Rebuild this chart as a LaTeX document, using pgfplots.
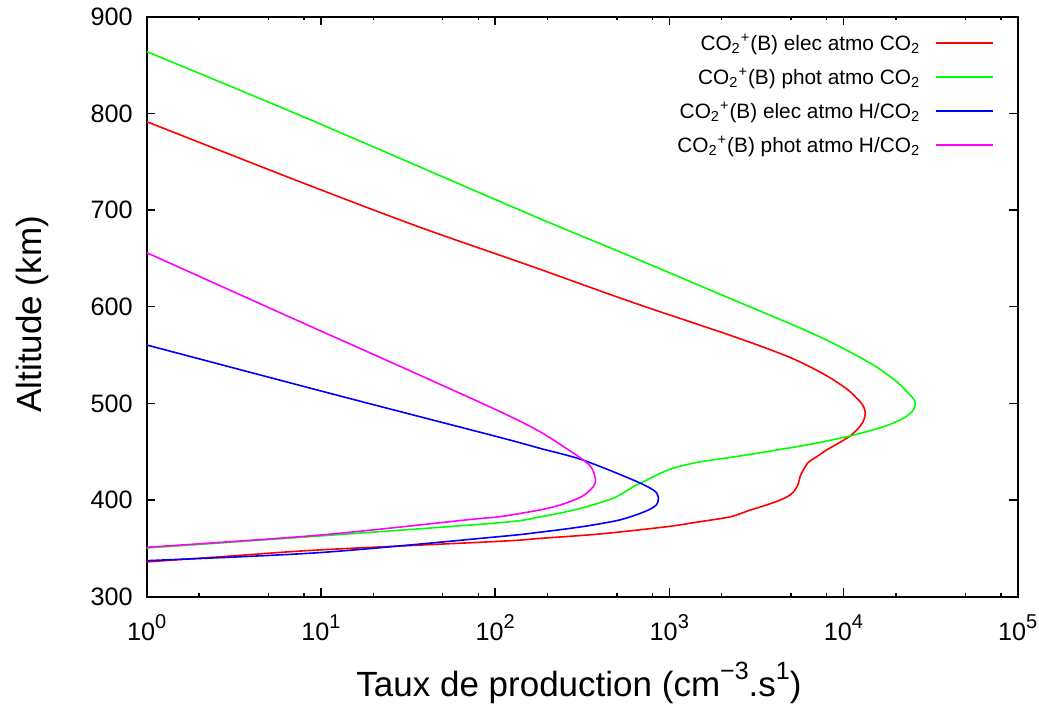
\documentclass[border=0pt]{standalone}
\usepackage{pgfplots}
\pgfplotsset{compat=1.18}
\usepackage{fontspec}
\setmainfont{Liberation Sans}
\newcommand{\tsup}[1]{\raisebox{6.3pt}{\fontsize{10}{10}\selectfont #1}}
\newcommand{\lsup}[1]{\raisebox{8.5pt}{\fontsize{12.5}{12.5}\selectfont #1}}
\definecolor{gpred}{RGB}{255,0,0}
\definecolor{gpgreen}{RGB}{0,255,0}
\definecolor{gpblue}{RGB}{0,0,255}
\definecolor{gpmagenta}{RGB}{255,0,255}
\begin{document}
\begin{tikzpicture}
\begin{axis}[
  at={(0,0)}, anchor=south west,
  scale only axis, width=435.5pt, height=290pt,
  xmode=log, xmin=1, xmax=1e5, ymin=300, ymax=900,
  xtick={1,10,100,1000,10000,100000},
  xticklabels={10\tsup{0},10\tsup{1},10\tsup{2},10\tsup{3},10\tsup{4},10\tsup{5}},
  minor xtick={2,5,8,20,50,80,200,500,800,2000,5000,8000,20000,50000,80000},
  ytick={300,400,...,900},
  tick align=inside,
  major tick length=4.2pt, minor tick length=1.7pt,
  tick style={black, line width=0.7pt},
  axis line style={line width=1pt},
  /pgf/number format/assume math mode=true,
  yticklabel style={font=\fontsize{12.6}{14}\selectfont, inner sep=0pt, xshift=-6.85pt},
  xticklabel style={font=\fontsize{12.6}{14}\selectfont, inner sep=0pt, anchor=base, yshift=-22pt},
  xlabel={Taux de production (cm\lsup{−3}.s\lsup{1})},
  xlabel style={at={(axis description cs:0.4963,-0.1724)}, anchor=base, font=\fontsize{17.5}{20}\selectfont},
  ylabel={Altitude (km)},
  ylabel style={at={(axis description cs:-0.1206,0.487)}, anchor=base, font=\fontsize{17.5}{20}\selectfont},
  legend style={draw=none, fill=none, at={(axis description cs:1,1)}, anchor=north east,
    xshift=-12.2pt, yshift=-7.15pt, inner sep=0pt, outer sep=0pt, row sep=5pt, column sep=7.5pt,
    font=\fontsize{10.4}{12}\selectfont, nodes={inner sep=0pt, text height=9.5pt, text depth=2.5pt}},
  legend cell align=right, legend plot pos=right,
  legend image code/.code={\draw[#1] (0pt,0pt) -- (28.3pt,0pt);},
  every axis plot/.append style={line width=0.8pt, smooth, tension=0.5},
]
\addplot[gpred] coordinates {
(1,791.4) (7.9,728) (36.9,682.3) (158,642.5) (593,605.5) (2400,568.5) (4930,547.5) (7660,530.5)
(10430,515) (12450,501.7) (13150,495) (13320,488.5) (12950,481) (12170,474.2) (10900,466.3)
(9400,459) (8000,451.8) (7020,444.8) (6300,439.2) (5880,431.1) (5630,424.2) (5510,417.3)
(5270,410.4) (4930,405.2) (4330,400) (3620,394.9) (2900,389.5) (2550,385.8) (2200,382.3)
(1500,377.6) (966,372.4) (399,364.9) (180,360.3) (106,357.3) (9.8,348.4) (3,342) (1,336)};
\addlegendentry{CO\textsubscript{2}\textsuperscript{+}(B) elec atmo CO\textsubscript{2}}
\addplot[gpgreen] coordinates {
(1,863.9) (7.9,796.6) (158,695.6) (593,652.5) (2222,608.7) (6010,575.8) (9550,558.6) (14830,539.7)
(20200,522.4) (24100,508.7) (25760,501.7) (25170,493.1) (22050,484.6) (16940,475.9) (10900,466.3)
(6150,457) (2547,445.6) (1500,439.5) (1050,433) (850,426) (740,420.5) (621,413.8) (499,403.5)
(400,397.3) (321,392.1) (258,388) (180,382.5) (107,376.6) (9.8,362.8) (1,350.4)};
\addlegendentry{CO\textsubscript{2}\textsuperscript{+}(B) phot atmo CO\textsubscript{2}}
\addplot[gpblue] coordinates {
(1,560.4) (13.3,507) (106,464.9) (180,453.6) (318,441.5) (621,420.7) (809,410.4) (864,403.5)
(842,394.9) (722,388) (519,379.4) (318,372.5) (180,366.7) (106,362.2) (9.8,345.6) (1,337.3)};
\addlegendentry{CO\textsubscript{2}\textsuperscript{+}(B) elec atmo H/CO\textsubscript{2}}
\addplot[gpmagenta] coordinates {
(1,655.9) (7.07,587) (30,536.5) (107,491.4) (181,470.7) (258,453) (321,441.4) (359,433) (377,421)
(366,413.8) (314,403.5) (235,394.7) (180,389.7) (106,382.7) (74,380.1) (9.8,363.7) (1,351.1)};
\addlegendentry{CO\textsubscript{2}\textsuperscript{+}(B) phot atmo H/CO\textsubscript{2}}
\end{axis}
\pgfresetboundingbox
\path[use as bounding box] (-73.35pt,-58.15pt) rectangle (446.15pt,298.35pt);
\end{tikzpicture}
\end{document}
